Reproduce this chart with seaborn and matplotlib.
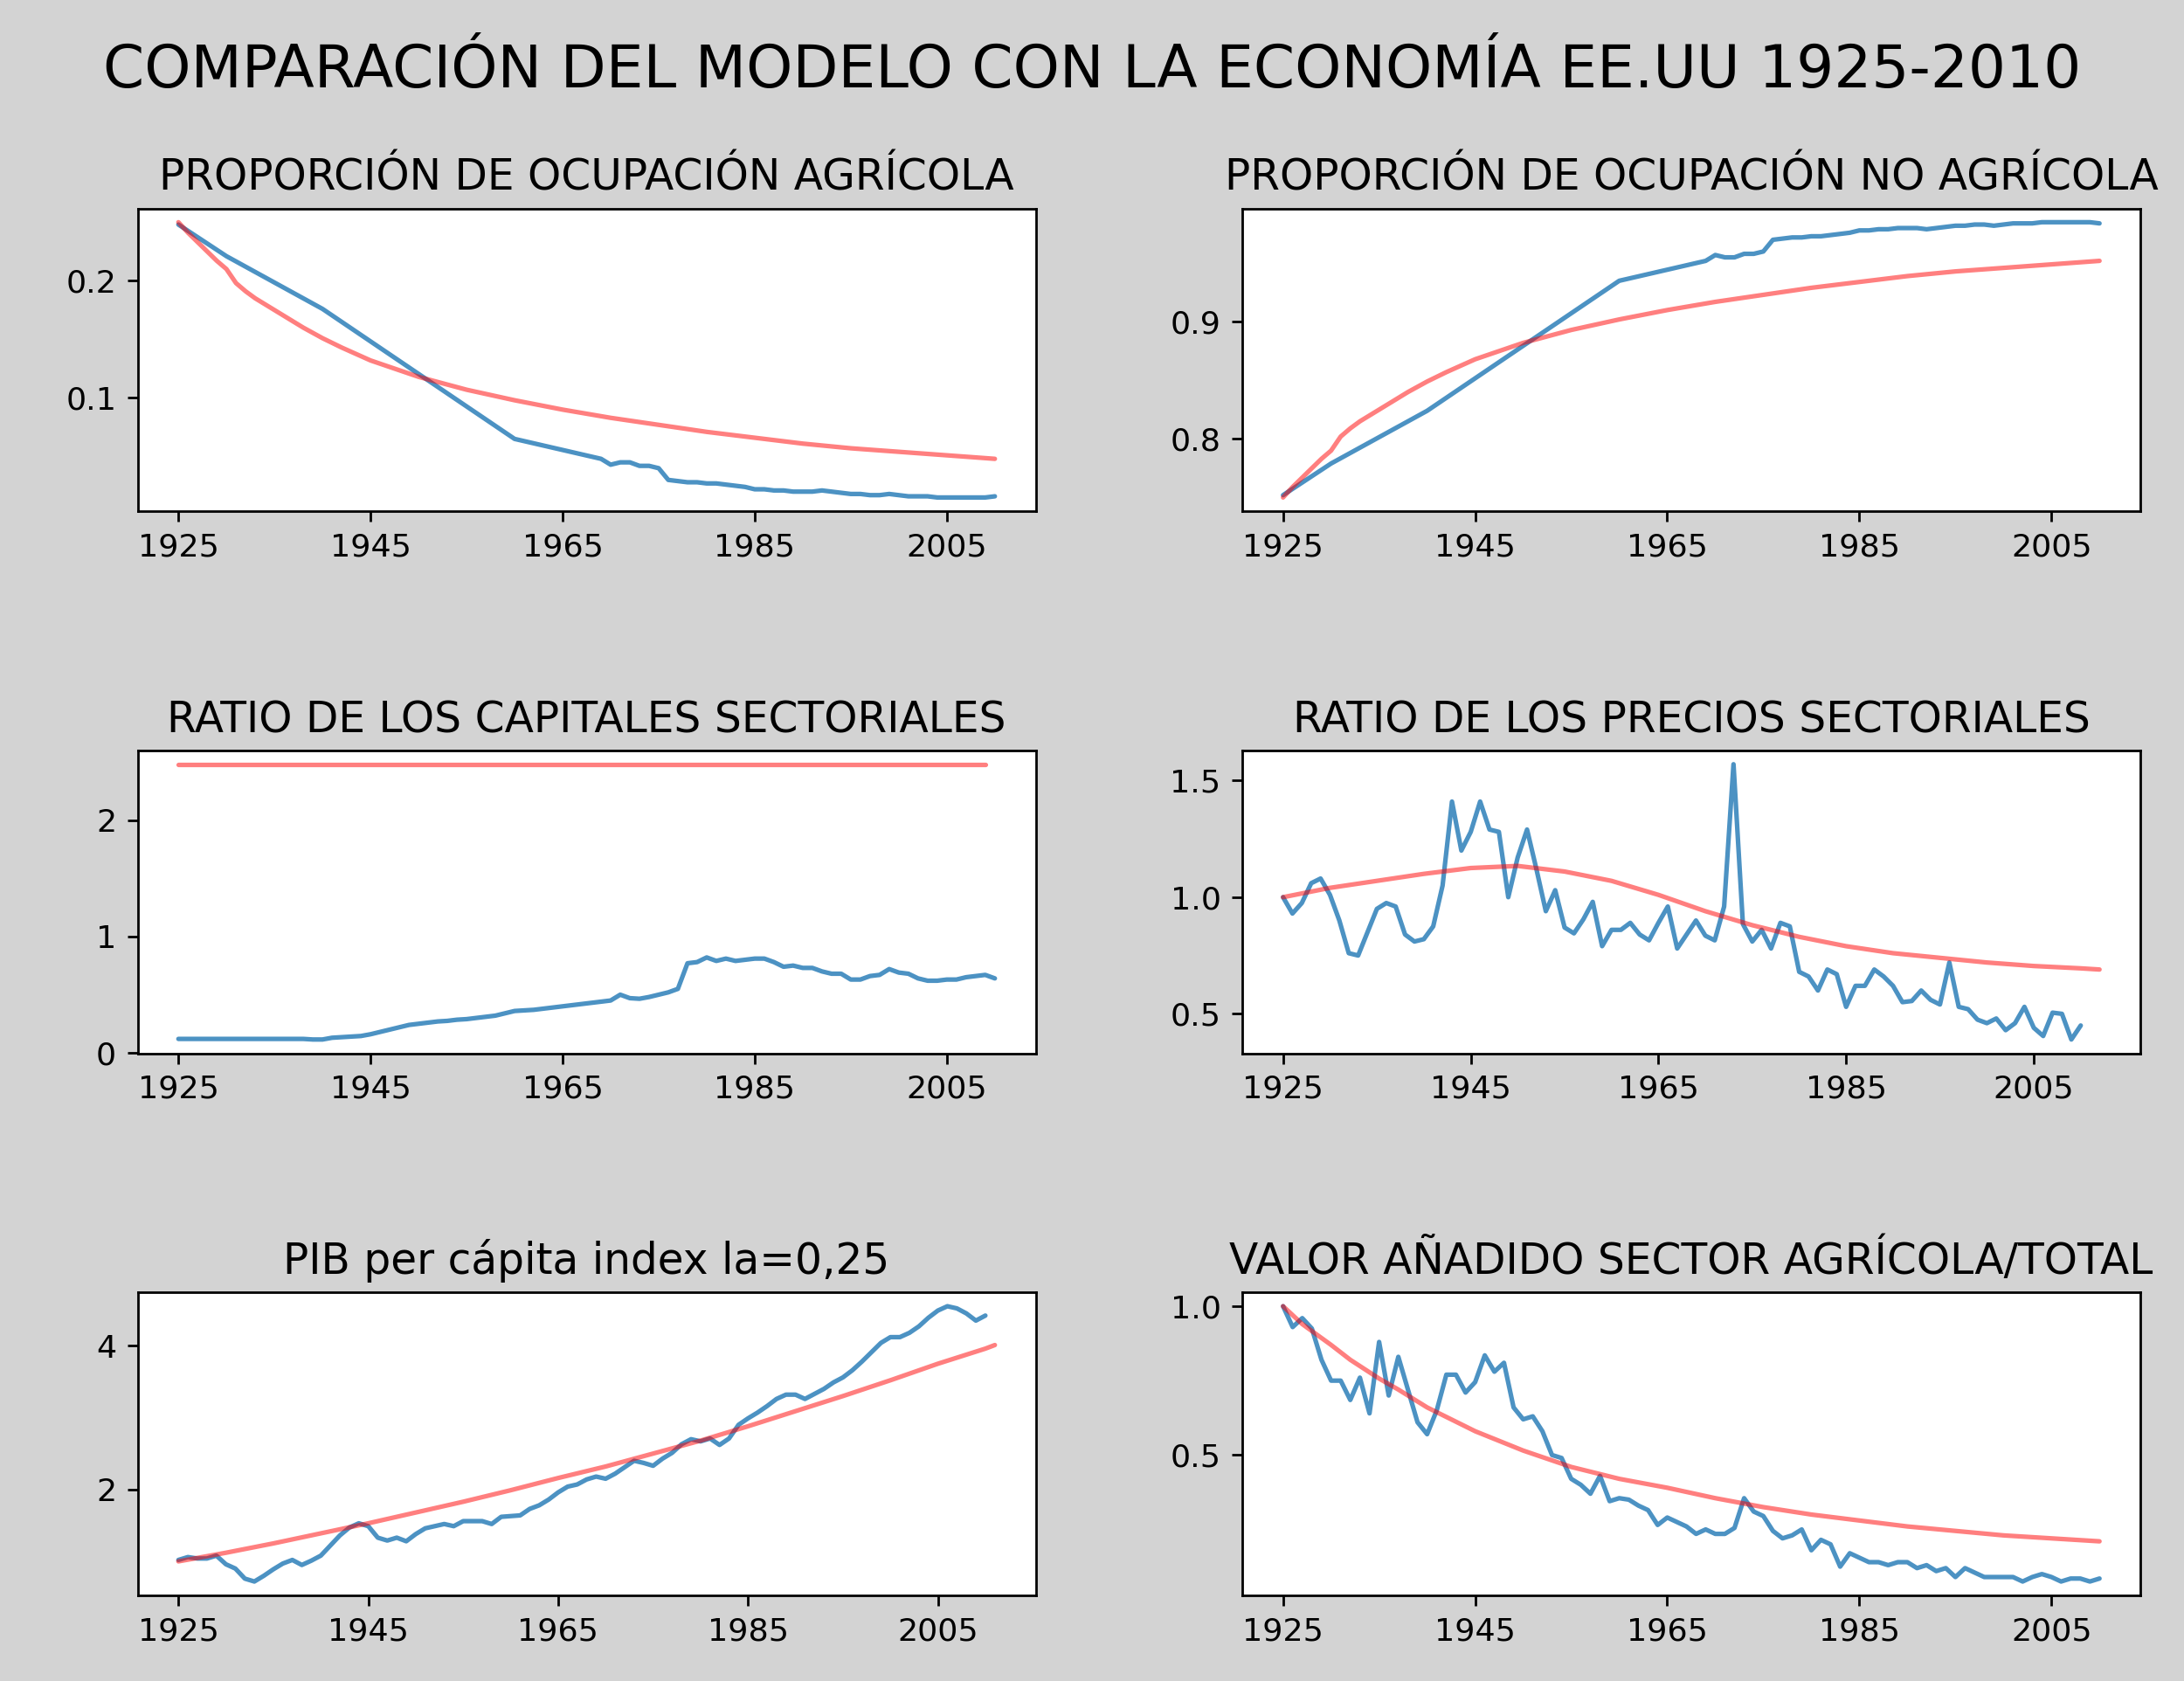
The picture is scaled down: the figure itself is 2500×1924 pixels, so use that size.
import numpy as np
import pandas as pd
import seaborn as sns
from matplotlib import pyplot as plt

# ---- data ----
years = list(range(1925, 2011))

# agricultural employment share (data), knots + yearly tail
agr_years = [1925, 1930, 1940, 1960] + list(range(1969, 2011))
agr_data = [0.248, 0.221, 0.176, 0.065,
            0.048, 0.043, 0.045, 0.045, 0.042, 0.042, 0.040, 0.030, 0.029, 0.028,
            0.028, 0.027, 0.027, 0.026, 0.025, 0.024, 0.022, 0.022, 0.021, 0.021,
            0.020, 0.020, 0.020, 0.021, 0.020, 0.019, 0.018, 0.018, 0.017, 0.017,
            0.018, 0.017, 0.016, 0.016, 0.016, 0.015, 0.015, 0.015, 0.015, 0.015,
            0.015, 0.016]
model_years5 = list(range(1925, 2011, 5))
agr_model_years = [1925, 1926, 1927, 1928, 1929, 1930, 1931, 1932, 1933, 1935, 1937,
                   1938, 1940, 1942, 1945, 1950, 1955, 1960, 1965, 1970, 1975, 1980,
                   1985, 1990, 1995, 2000, 2005, 2010]
agr_model = [0.250, 0.241, 0.233, 0.225, 0.217, 0.210, 0.198, 0.191, 0.185, 0.175,
             0.165, 0.160, 0.151, 0.143, 0.132, 0.118, 0.107, 0.098, 0.090, 0.083,
             0.077, 0.071, 0.066, 0.061, 0.057, 0.054, 0.051, 0.048]

# capital ratio
cap_data = [0.12, 0.12, 0.12, 0.12, 0.12, 0.12, 0.12, 0.12, 0.12, 0.12, 0.12, 0.12,
            0.12, 0.12, 0.115, 0.115, 0.13, 0.135, 0.14, 0.145, 0.16, 0.18, 0.20,
            0.22, 0.24, 0.25, 0.26, 0.27, 0.275, 0.285, 0.29, 0.30, 0.31, 0.32,
            0.34, 0.36, 0.365, 0.37, 0.38, 0.39, 0.40, 0.41, 0.42, 0.43, 0.44,
            0.45, 0.50, 0.47, 0.465, 0.48, 0.50, 0.52, 0.55, 0.77, 0.78, 0.82,
            0.79, 0.81, 0.79, 0.80, 0.81, 0.81, 0.78, 0.74, 0.75, 0.73, 0.73,
            0.70, 0.68, 0.68, 0.63, 0.63, 0.66, 0.67, 0.72, 0.69, 0.68, 0.64,
            0.62, 0.62, 0.63, 0.63, 0.65, 0.66, 0.67, 0.64]
cap_model_years = [1925, 2009]
cap_model = [2.48, 2.48]

# price ratio
price_data = [1.00, 0.93, 0.975, 1.06, 1.08, 1.01, 0.90, 0.76, 0.75, 0.85, 0.95,
              0.975, 0.96, 0.84, 0.81, 0.82, 0.875, 1.05, 1.41, 1.20, 1.28, 1.41,
              1.29, 1.28, 1.00, 1.17, 1.29, 1.12, 0.94, 1.03, 0.87, 0.845, 0.905,
              0.98, 0.79, 0.86, 0.86, 0.89, 0.84, 0.815, 0.89, 0.96, 0.78, 0.84,
              0.90, 0.835, 0.815, 0.96, 1.57, 0.885, 0.81, 0.86, 0.78, 0.89, 0.875,
              0.68, 0.66, 0.60, 0.69, 0.67, 0.53, 0.62, 0.62, 0.69, 0.66, 0.62,
              0.55, 0.555, 0.60, 0.56, 0.54, 0.72, 0.53, 0.52, 0.475, 0.46, 0.48,
              0.43, 0.46, 0.53, 0.44, 0.405, 0.505, 0.50, 0.39, 0.45]
price_model_years = model_years5 + [2012]
price_model = [1.00, 1.04, 1.07, 1.10, 1.125, 1.134, 1.11, 1.07, 1.01, 0.94,
               0.88, 0.83, 0.79, 0.76, 0.74, 0.72, 0.705, 0.695, 0.69]

# GDP per capita index
pib_data = [1.02, 1.06, 1.04, 1.04, 1.08, 0.96, 0.90, 0.76, 0.72, 0.80, 0.89, 0.97,
            1.02, 0.95, 1.01, 1.08, 1.22, 1.36, 1.47, 1.53, 1.49, 1.33, 1.29, 1.33,
            1.28, 1.38, 1.46, 1.49, 1.52, 1.49, 1.56, 1.56, 1.56, 1.52, 1.62, 1.63,
            1.64, 1.73, 1.78, 1.86, 1.96, 2.04, 2.07, 2.14, 2.18, 2.15, 2.22, 2.31,
            2.40, 2.37, 2.33, 2.43, 2.51, 2.63, 2.70, 2.67, 2.71, 2.62, 2.71, 2.90,
            2.99, 3.07, 3.16, 3.26, 3.32, 3.32, 3.26, 3.33, 3.40, 3.49, 3.56, 3.66,
            3.78, 3.91, 4.04, 4.12, 4.12, 4.18, 4.27, 4.39, 4.49, 4.55, 4.52, 4.45,
            4.35, 4.42]
pib_model_years = model_years5 + [2011]
pib_model = [1.00, 1.12, 1.25, 1.39, 1.53, 1.68, 1.83, 1.99, 2.16, 2.32, 2.50,
             2.68, 2.88, 3.09, 3.30, 3.52, 3.75, 3.96, 4.01]

# agricultural value added share
va_data = [1.00, 0.93, 0.96, 0.925, 0.82, 0.75, 0.75, 0.685, 0.76, 0.64, 0.88,
           0.70, 0.83, 0.72, 0.61, 0.57, 0.65, 0.77, 0.77, 0.71, 0.745, 0.835,
           0.78, 0.81, 0.66, 0.62, 0.63, 0.58, 0.50, 0.49, 0.42, 0.40, 0.37, 0.43,
           0.345, 0.355, 0.35, 0.33, 0.315, 0.265, 0.29, 0.275, 0.26, 0.235, 0.25,
           0.235, 0.235, 0.255, 0.355, 0.31, 0.295, 0.245, 0.22, 0.23, 0.25, 0.18,
           0.215, 0.20, 0.125, 0.17, 0.155, 0.14, 0.14, 0.13, 0.14, 0.14, 0.12,
           0.13, 0.11, 0.12, 0.09, 0.12, 0.105, 0.09, 0.09, 0.09, 0.09, 0.075,
           0.09, 0.10, 0.09, 0.075, 0.085, 0.085, 0.075, 0.085]
va_model_years = [1925, 1927, 1930, 1932, 1935, 1937, 1940, 1945, 1950, 1955, 1960,
                  1965, 1970, 1975, 1980, 1985, 1990, 1995, 2000, 2005, 2010]
va_model = [1.00, 0.94, 0.87, 0.82, 0.757, 0.72, 0.66, 0.58, 0.515, 0.46, 0.42,
            0.39, 0.355, 0.325, 0.30, 0.28, 0.26, 0.245, 0.23, 0.22, 0.21]

titles = ['PROPORCIÓN DE OCUPACIÓN AGRÍCOLA', 'PROPORCIÓN DE OCUPACIÓN NO AGRÍCOLA',
          'RATIO DE LOS CAPITALES SECTORIALES', 'RATIO DE LOS PRECIOS SECTORIALES',
          'PIB per cápita index la=0,25', 'VALOR AÑADIDO SECTOR AGRÍCOLA/TOTAL']

panels = [
    (agr_years, agr_data, agr_model_years, agr_model),
    (agr_years, [1 - v for v in agr_data], agr_model_years, [1 - v for v in agr_model]),
    (years, cap_data, cap_model_years, cap_model),
    (years, price_data, price_model_years, price_model),
    (years, pib_data, pib_model_years, pib_model),
    (years, va_data, va_model_years, va_model),
]

sns.set_style("ticks")
plt.rcParams['font.family'] = ['DejaVu Sans']
plt.rcParams['text.color'] = 'black'
plt.rcParams['xtick.color'] = 'black'
plt.rcParams['ytick.color'] = 'black'
plt.rcParams['axes.labelcolor'] = 'black'

fig, axes = plt.subplots(3, 2, figsize=(10, 7.696), dpi=250, facecolor='lightgrey')
fig.subplots_adjust(left=0.063, right=0.98, top=0.876, bottom=0.051,
                    hspace=0.79, wspace=0.23)

for ax, (dx, dy, mx, my), t in zip(axes.flat, panels, titles):
    sns.lineplot(data=pd.DataFrame({'x': dx, 'y': dy}), x='x', y='y', ax=ax,
                 color='#1f77b4', alpha=0.8, lw=1.5)
    sns.lineplot(data=pd.DataFrame({'x': mx, 'y': my}), x='x', y='y', ax=ax,
                 color='red', alpha=0.5, lw=1.5)
    ax.set_title(t, fontsize=14, color='black')
    ax.set_xlabel('')
    ax.set_ylabel('')
    ax.set_xticks(range(1925, 2010, 20))
    ax.tick_params(labelsize=10.5, colors='black')
    for s in ax.spines.values():
        s.set_visible(True)
        s.set_color('black')

axes[0, 0].set_yticks([0.1, 0.2])
axes[0, 1].set_yticks([0.8, 0.9])
axes[1, 0].set_yticks([0, 1, 2])
axes[1, 1].set_yticks([0.5, 1.0, 1.5])
axes[2, 0].set_yticks([2, 4])
axes[2, 1].set_yticks([0.5, 1.0])

fig.suptitle('COMPARACIÓN DEL MODELO CON LA ECONOMÍA EE.UU 1925-2010', fontsize=19.5,
             y=0.975, color='black')
fig.savefig('out.png', facecolor=fig.get_facecolor())
